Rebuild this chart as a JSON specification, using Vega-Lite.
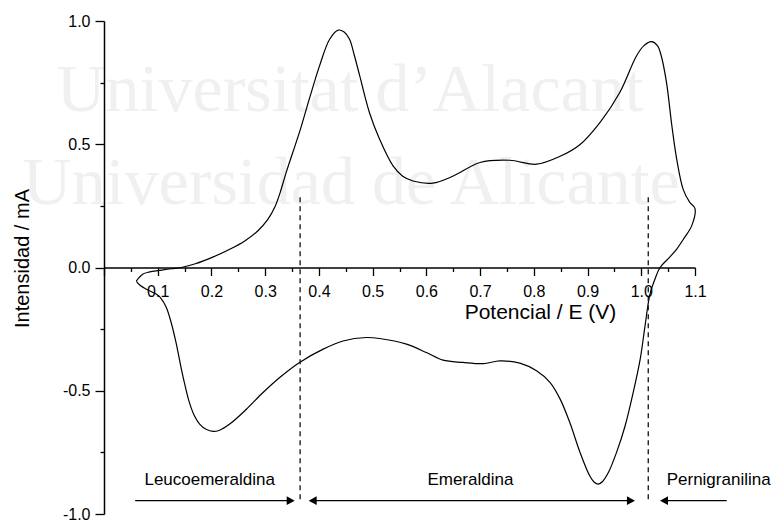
{
  "$schema": "https://vega.github.io/schema/vega-lite/v6.json",
  "width": 591,
  "height": 493,
  "autosize": {"type": "none"},
  "padding": {"left": 104, "top": 21, "right": 76, "bottom": 7},
  "background": "white",
  "config": {"view": {"stroke": null}, "font": "Liberation Sans"},
  "datasets": {
    "cv": [
      {"o": 1, "E": 0.060, "I": -0.055},
      {"o": 2, "E": 0.072, "I": -0.027},
      {"o": 3, "E": 0.085, "I": -0.018},
      {"o": 4, "E": 0.103, "I": -0.012},
      {"o": 5, "E": 0.125, "I": -0.005},
      {"o": 6, "E": 0.144, "I": 0.000},
      {"o": 7, "E": 0.170, "I": 0.015},
      {"o": 8, "E": 0.2025, "I": 0.042},
      {"o": 9, "E": 0.235, "I": 0.075},
      {"o": 10, "E": 0.262, "I": 0.108},
      {"o": 11, "E": 0.286, "I": 0.148},
      {"o": 12, "E": 0.305, "I": 0.195},
      {"o": 13, "E": 0.318, "I": 0.245},
      {"o": 14, "E": 0.328, "I": 0.305},
      {"o": 15, "E": 0.339, "I": 0.385},
      {"o": 16, "E": 0.364, "I": 0.550},
      {"o": 17, "E": 0.383, "I": 0.690},
      {"o": 18, "E": 0.401, "I": 0.817},
      {"o": 19, "E": 0.420, "I": 0.926},
      {"o": 20, "E": 0.436, "I": 0.963},
      {"o": 21, "E": 0.447, "I": 0.955},
      {"o": 22, "E": 0.457, "I": 0.926},
      {"o": 23, "E": 0.466, "I": 0.860},
      {"o": 24, "E": 0.476, "I": 0.777},
      {"o": 25, "E": 0.494, "I": 0.629},
      {"o": 26, "E": 0.513, "I": 0.520},
      {"o": 27, "E": 0.538, "I": 0.412},
      {"o": 28, "E": 0.556, "I": 0.370},
      {"o": 29, "E": 0.575, "I": 0.351},
      {"o": 30, "E": 0.612, "I": 0.342},
      {"o": 31, "E": 0.650, "I": 0.371},
      {"o": 32, "E": 0.700, "I": 0.426},
      {"o": 33, "E": 0.755, "I": 0.435},
      {"o": 34, "E": 0.805, "I": 0.419},
      {"o": 35, "E": 0.848, "I": 0.450},
      {"o": 36, "E": 0.885, "I": 0.497},
      {"o": 37, "E": 0.923, "I": 0.588},
      {"o": 38, "E": 0.960, "I": 0.710},
      {"o": 39, "E": 0.991, "I": 0.858},
      {"o": 40, "E": 1.005, "I": 0.900},
      {"o": 41, "E": 1.019, "I": 0.916},
      {"o": 42, "E": 1.030, "I": 0.900},
      {"o": 43, "E": 1.037, "I": 0.860},
      {"o": 44, "E": 1.047, "I": 0.750},
      {"o": 45, "E": 1.057, "I": 0.574},
      {"o": 46, "E": 1.066, "I": 0.439},
      {"o": 47, "E": 1.078, "I": 0.317},
      {"o": 48, "E": 1.090, "I": 0.265},
      {"o": 49, "E": 1.100, "I": 0.239},
      {"o": 50, "E": 1.094, "I": 0.170},
      {"o": 51, "E": 1.080, "I": 0.120},
      {"o": 52, "E": 1.066, "I": 0.075},
      {"o": 53, "E": 1.052, "I": 0.040},
      {"o": 54, "E": 1.035, "I": 0.000},
      {"o": 55, "E": 1.025, "I": -0.050},
      {"o": 56, "E": 1.016, "I": -0.110},
      {"o": 57, "E": 1.007, "I": -0.237},
      {"o": 58, "E": 0.998, "I": -0.372},
      {"o": 59, "E": 0.985, "I": -0.507},
      {"o": 60, "E": 0.970, "I": -0.642},
      {"o": 61, "E": 0.954, "I": -0.750},
      {"o": 62, "E": 0.939, "I": -0.831},
      {"o": 63, "E": 0.928, "I": -0.868},
      {"o": 64, "E": 0.920, "I": -0.879},
      {"o": 65, "E": 0.912, "I": -0.870},
      {"o": 66, "E": 0.904, "I": -0.845},
      {"o": 67, "E": 0.886, "I": -0.750},
      {"o": 68, "E": 0.867, "I": -0.629},
      {"o": 69, "E": 0.849, "I": -0.534},
      {"o": 70, "E": 0.830, "I": -0.466},
      {"o": 71, "E": 0.805, "I": -0.419},
      {"o": 72, "E": 0.774, "I": -0.388},
      {"o": 73, "E": 0.737, "I": -0.379},
      {"o": 74, "E": 0.706, "I": -0.390},
      {"o": 75, "E": 0.668, "I": -0.385},
      {"o": 76, "E": 0.631, "I": -0.376},
      {"o": 77, "E": 0.600, "I": -0.345},
      {"o": 78, "E": 0.563, "I": -0.311},
      {"o": 79, "E": 0.513, "I": -0.288},
      {"o": 80, "E": 0.488, "I": -0.284},
      {"o": 81, "E": 0.445, "I": -0.298},
      {"o": 82, "E": 0.408, "I": -0.331},
      {"o": 83, "E": 0.364, "I": -0.385},
      {"o": 84, "E": 0.327, "I": -0.446},
      {"o": 85, "E": 0.296, "I": -0.507},
      {"o": 86, "E": 0.265, "I": -0.575},
      {"o": 87, "E": 0.234, "I": -0.635},
      {"o": 88, "E": 0.215, "I": -0.660},
      {"o": 89, "E": 0.203, "I": -0.665},
      {"o": 90, "E": 0.190, "I": -0.656},
      {"o": 91, "E": 0.178, "I": -0.635},
      {"o": 92, "E": 0.168, "I": -0.600},
      {"o": 93, "E": 0.159, "I": -0.548},
      {"o": 94, "E": 0.151, "I": -0.480},
      {"o": 95, "E": 0.144, "I": -0.412},
      {"o": 96, "E": 0.134, "I": -0.304},
      {"o": 97, "E": 0.125, "I": -0.223},
      {"o": 98, "E": 0.116, "I": -0.162},
      {"o": 99, "E": 0.106, "I": -0.125},
      {"o": 100, "E": 0.097, "I": -0.108},
      {"o": 101, "E": 0.079, "I": -0.088},
      {"o": 102, "E": 0.067, "I": -0.072},
      {"o": 103, "E": 0.060, "I": -0.055}
    ],
    "watermark": [
      {"E": 0.458, "I": 0.635, "t": "Universitat d’Alacant"},
      {"E": 0.460, "I": 0.258, "t": "Universidad de Alicante"}
    ],
    "dashes": [
      {"E": 0.365, "top": 0.285, "bottom": -0.95},
      {"E": 1.013, "top": 0.285, "bottom": -0.95}
    ],
    "arrows": [
      {"from": 0.058, "to": 0.35, "I": -0.946},
      {"from": 0.39, "to": 0.98, "I": -0.946},
      {"from": 1.042, "to": 1.159, "I": -0.946}
    ],
    "heads": [
      {"E": 0.3475, "I": -0.946, "dir": "right"},
      {"E": 0.3884, "I": -0.946, "dir": "left"},
      {"E": 0.9808, "I": -0.946, "dir": "right"},
      {"E": 1.0423, "I": -0.946, "dir": "left"}
    ],
    "labels": [
      {"E": 0.1966, "I": -0.882, "t": "Leucoemeraldina"},
      {"E": 0.682, "I": -0.882, "t": "Emeraldina"},
      {"E": 1.144, "I": -0.882, "t": "Pernigranilina"}
    ]
  },
  "layer": [
    {
      "data": {"name": "watermark"},
      "mark": {"type": "text", "font": "Liberation Serif", "fontSize": 68, "color": "#f0f0f0", "align": "center", "baseline": "alphabetic"},
      "encoding": {
        "x": {"field": "E", "type": "quantitative", "scale": {"domain": [0, 1.1], "nice": false, "zero": false}, "axis": null},
        "y": {"field": "I", "type": "quantitative", "scale": {"domain": [-1, 1], "nice": false, "zero": false}, "axis": null},
        "text": {"field": "t"}
      }
    },
    {
      "data": {"name": "cv"},
      "mark": {"type": "line", "color": "black", "strokeWidth": 1.2, "interpolate": "catmull-rom"},
      "encoding": {
        "x": {"field": "E", "type": "quantitative", "scale": {"domain": [0, 1.1], "nice": false, "zero": false},
          "axis": {
            "orient": "bottom", "offset": -246.5, "zindex": 1,
            "values": [0, 0.1, 0.2, 0.3, 0.4, 0.5, 0.6, 0.7, 0.8, 0.9, 1.0, 1.1],
            "labelExpr": "datum.value == 0 ? '' : format(datum.value, '.1f')",
            "labelOverlap": false, "labelFlush": false,
            "tickSize": 8, "tickWidth": 1.3, "tickColor": "black",
            "domainColor": "black", "domainWidth": 1.3,
            "labelFont": "Liberation Sans", "labelFontSize": 16, "labelColor": "black", "labelPadding": 8,
            "grid": false,
            "title": "Potencial / E (V)", "titleFont": "Liberation Sans", "titleFontSize": 21, "titleFontWeight": "normal", "titleColor": "black",
            "titleX": 436, "titleY": 51, "titleBaseline": "alphabetic", "titleAlign": "center", "titleAnchor": null
          }
        },
        "y": {"field": "I", "type": "quantitative", "scale": {"domain": [-1, 1], "nice": false, "zero": false},
          "axis": {
            "orient": "left", "zindex": 1,
            "values": [-1, -0.5, 0, 0.5, 1],
            "labelExpr": "replace(format(datum.value, '.1f'), '\u2212', '-')",
            "labelOverlap": false, "labelFlush": false,
            "tickSize": 9, "tickWidth": 1.3, "tickColor": "black",
            "domainColor": "black", "domainWidth": 1.5,
            "labelFont": "Liberation Sans", "labelFontSize": 16, "labelColor": "black", "labelPadding": 5,
            "grid": false,
            "title": "Intensidad / mA", "titleFont": "Liberation Sans", "titleFontSize": 20, "titleFontWeight": "normal", "titleColor": "black",
            "titleAngle": -90, "titleX": -82, "titleY": 237, "titleBaseline": "middle", "titleAlign": "center", "titleAnchor": null
          }
        },
        "order": {"field": "o", "type": "quantitative"}
      }
    },
    {
      "data": {"name": "dashes"},
      "mark": {"type": "rule", "color": "#111", "strokeWidth": 1.3, "strokeDash": [5, 4]},
      "encoding": {
        "x": {"field": "E", "type": "quantitative", "scale": {"domain": [0, 1.1], "nice": false, "zero": false},
          "axis": {
            "orient": "bottom", "offset": -246.5, "zindex": 1,
            "values": [0.05, 0.15, 0.25, 0.35, 0.45, 0.55, 0.65, 0.75, 0.85, 0.95, 1.05],
            "labels": false, "domain": false, "grid": false, "title": null,
            "tickSize": 4, "tickWidth": 1.3, "tickColor": "black"
          }
        },
        "y": {"field": "top", "type": "quantitative", "scale": {"domain": [-1, 1], "nice": false, "zero": false},
          "axis": {
            "orient": "left", "zindex": 1,
            "values": [-0.75, -0.25, 0.25, 0.75],
            "labels": false, "domain": false, "grid": false, "title": null,
            "tickSize": 4, "tickWidth": 1.3, "tickColor": "black"
          }
        },
        "y2": {"field": "bottom"}
      }
    },
    {
      "data": {"name": "arrows"},
      "mark": {"type": "rule", "color": "black", "strokeWidth": 1.2},
      "encoding": {
        "x": {"field": "from", "type": "quantitative", "scale": {"domain": [0, 1.1], "nice": false, "zero": false}, "axis": null},
        "x2": {"field": "to"},
        "y": {"field": "I", "type": "quantitative", "scale": {"domain": [-1, 1], "nice": false, "zero": false}, "axis": null}
      }
    },
    {
      "data": {"name": "heads"},
      "mark": {"type": "point", "filled": true, "opacity": 1, "color": "black", "size": 64},
      "encoding": {
        "x": {"field": "E", "type": "quantitative", "scale": {"domain": [0, 1.1], "nice": false, "zero": false}, "axis": null},
        "y": {"field": "I", "type": "quantitative", "scale": {"domain": [-1, 1], "nice": false, "zero": false}, "axis": null},
        "shape": {"field": "dir", "type": "nominal", "scale": {"domain": ["right", "left"], "range": ["M-1,-1.1L1,0L-1,1.1Z", "M1,-1.1L-1,0L1,1.1Z"]}, "legend": null}
      }
    },
    {
      "data": {"name": "labels"},
      "mark": {"type": "text", "font": "Liberation Sans", "fontSize": 17, "color": "black", "align": "center", "baseline": "alphabetic"},
      "encoding": {
        "x": {"field": "E", "type": "quantitative", "scale": {"domain": [0, 1.1], "nice": false, "zero": false}, "axis": null},
        "y": {"field": "I", "type": "quantitative", "scale": {"domain": [-1, 1], "nice": false, "zero": false}, "axis": null},
        "text": {"field": "t"}
      }
    }
  ],
  "resolve": {"axis": {"x": "independent", "y": "independent"}}
}
